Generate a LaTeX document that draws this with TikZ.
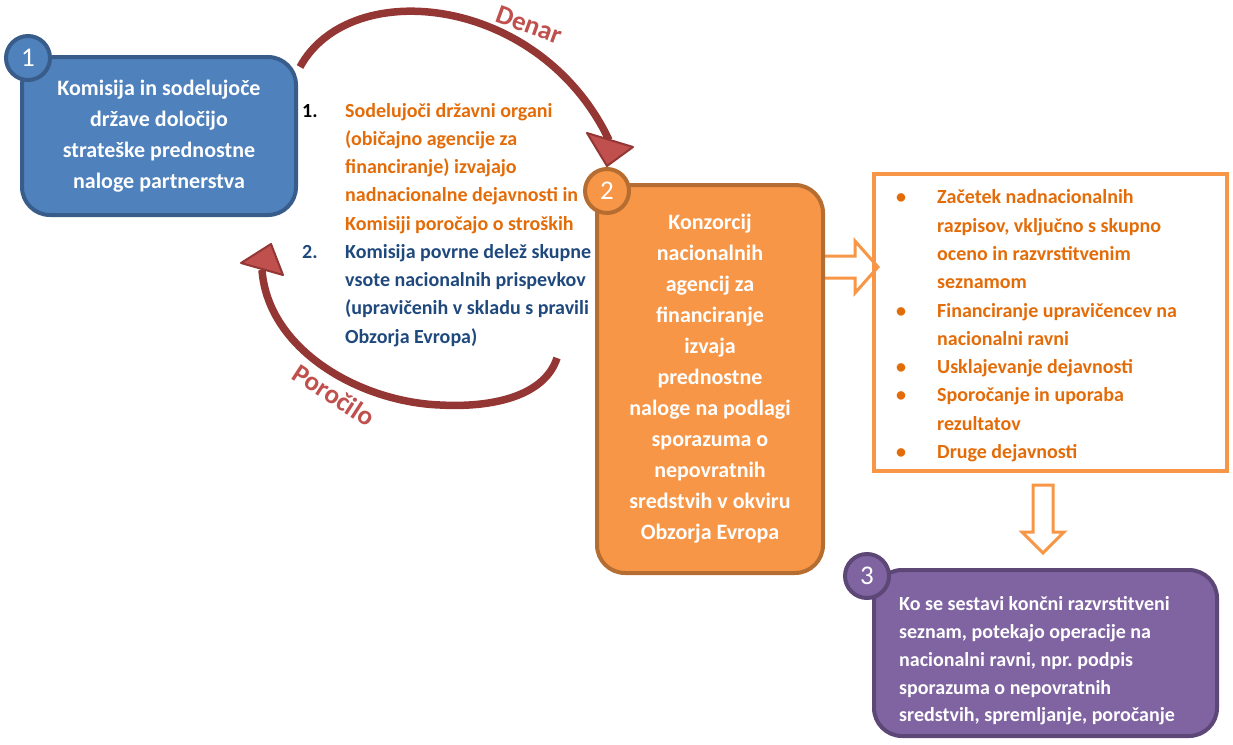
\documentclass[tikz,border=0pt]{standalone}
\usepackage{fontspec}
\setmainfont{Carlito}
\usetikzlibrary{positioning, calc}
\frenchspacing

\definecolor{blueFill}{HTML}{4F81BD}
\definecolor{blueLine}{HTML}{385D8A}
\definecolor{orangeFill}{HTML}{F79646}
\definecolor{orangeLine}{HTML}{B66D31}
\definecolor{purpleFill}{HTML}{8064A2}
\definecolor{purpleLine}{HTML}{5C4776}
\definecolor{orangeText}{HTML}{E36C09}
\definecolor{blueText}{HTML}{1F497D}
\definecolor{arrowDark}{HTML}{943634}
\definecolor{arrowRed}{HTML}{C0504D}

\begin{document}
\begin{tikzpicture}[
    x=1pt, y=-1pt,
    box/.style={draw, line width=4pt, rounded corners=28pt, text=white, align=center,
      font=\bfseries\fontsize{22}{31}\selectfont},
    badge/.style={circle, draw, line width=4pt, minimum size=44pt, inner sep=0pt, text=white,
      font=\fontsize{27}{27}\selectfont},
    listtext/.style={anchor=west, inner sep=0pt, font=\bfseries\fontsize{20}{28.3}\selectfont},
    hollow/.style={draw=orangeFill, line width=3pt, fill=white, line join=miter},
    curved/.style={draw=arrowDark, line width=7.5pt},
    tiphead/.style={fill=arrowRed, draw=arrowDark, line width=2pt, line join=round},
    lbl/.style={text=arrowRed, inner sep=0pt, font=\bfseries\fontsize{27}{27}\selectfont}
  ]
  \useasboundingbox (0,0) rectangle (1233,744);

  % Hohle Pfeile
  \coordinate (rArrow) at (824,267);
  \coordinate (dArrow) at (1043,485);
  \draw[hollow] (rArrow) ++(0,-11) -- ++(31,0) -- ++(0,-15) -- ++(23,26) -- ++(-23,26) -- ++(0,-15) -- ++(-31,0);
  \draw[hollow] (dArrow) ++(-10,0) -- ++(0,47) -- ++(-11,0) -- ++(21,21) -- ++(21,-21) -- ++(-11,0) -- ++(0,-47) -- cycle;

  % Kaesten
  \node[box, fill=blueFill, draw=blueLine, minimum width=274, minimum height=158] (komisija) at (159,136)
    {Komisija in sodelujoče\\države določijo\\strateške prednostne\\naloge partnerstva};
  \node[badge, fill=blueFill, draw=blueLine] (num1) at (28,58) {1};

  \node[box, fill=orangeFill, draw=orangeLine, minimum width=226, minimum height=388] (konzorcij) at (710,379)
    {Konzorcij\\nacionalnih\\agencij za\\financiranje\\izvaja\\prednostne\\naloge na podlagi\\sporazuma o\\nepovratnih\\sredstvih v okviru\\Obzorja Evropa};
  \node[badge, fill=orangeFill, draw=orangeLine] (num2) at (607,191) {2};

  \node[draw=orangeFill, line width=4pt, minimum width=353, minimum height=297] (dejavnosti) at (1050.5,322.5) {};
  \node[listtext, text=orangeText] (listItems) at (896,325.5) {%
    \begin{tabular}{@{}p{41pt}@{}l@{}}
      \textbullet & Začetek nadnacionalnih\\
                  & razpisov, vključno s skupno\\
                  & oceno in razvrstitvenim\\
                  & seznamom\\
      \textbullet & Financiranje upravičencev na\\
                  & nacionalni ravni\\
      \textbullet & Usklajevanje dejavnosti\\
      \textbullet & Sporočanje in uporaba\\
                  & rezultatov\\
      \textbullet & Druge dejavnosti
    \end{tabular}};

  \node[box, fill=purpleFill, draw=purpleLine, minimum width=343, minimum height=166] (operacije) at (1045.5,653) {};
  \node[listtext, text=white, font=\bfseries\fontsize{20}{27.8}\selectfont, align=left] (opText) at (899,661)
    {Ko se sestavi končni razvrstitveni\\seznam, potekajo operacije na\\nacionalni ravni, npr. podpis\\sporazuma o nepovratnih\\sredstvih, spremljanje, poročanje};
  \node[badge, fill=purpleFill, draw=purpleLine] (num3) at (867,576) {3};

  % Besedila med kaestoma
  \node[listtext] (stepOne) at (302,168) {%
    \begin{tabular}{@{}p{43pt}@{}l@{}}
      1. & \color{orangeText}Sodelujoči državni organi\\
         & \color{orangeText}(običajno agencije za\\
         & \color{orangeText}financiranje) izvajajo\\
         & \color{orangeText}nadnacionalne dejavnosti in\\
         & \color{orangeText}Komisiji poročajo o stroških
    \end{tabular}};
  \node[listtext, text=blueText] (stepTwo) at (302,295) {%
    \begin{tabular}{@{}p{43pt}@{}l@{}}
      2. & Komisija povrne delež skupne\\
         & vsote nacionalnih prispevkov\\
         & (upravičenih v skladu s pravili\\
         & Obzorja Evropa)
    \end{tabular}};

  % Ukrivljeni puscici
  \coordinate (denarFrom) at (300,67);
  \coordinate (denarTo) at (609,140);
  \draw[curved] (denarFrom) .. controls (350,-25) and (540,-5) .. (denarTo);
  \filldraw[tiphead] (587,133) -- (633,147) -- (607,166) -- cycle;

  \coordinate (porFrom) at (557,358);
  \coordinate (porTo) at (262,270);
  \draw[curved] (porFrom) .. controls (545,395) and (495,408) .. (440,405)
    .. controls (360,402) and (268,350) .. (porTo);
  \filldraw[tiphead] (241,263) -- (283,275) -- (271,244) -- cycle;

  \node[lbl, rotate=-20] (denarLbl) at (529,25) {Denar};
  \node[lbl, rotate=-33] (porLbl) at (334,395) {Poročilo};
\end{tikzpicture}
\end{document}
